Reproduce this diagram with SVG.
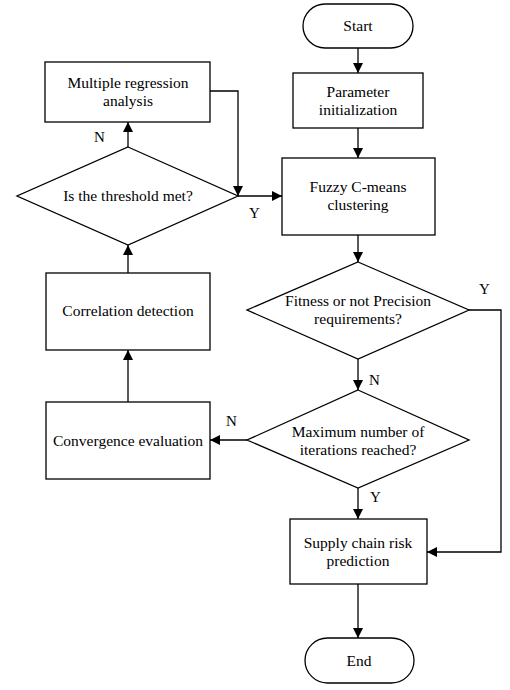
<svg xmlns="http://www.w3.org/2000/svg" width="510" height="690" viewBox="0 0 510 690">
<style>
.s{fill:#fff;stroke:#000;stroke-width:1.3}
.t{font-family:"Liberation Serif","Times New Roman",serif;font-size:15.5px;fill:#000;text-anchor:middle}
.l{font-family:"Liberation Serif","Times New Roman",serif;font-size:15px;fill:#000}
.c{fill:none;stroke:#000;stroke-width:1.3}
</style>
<defs>
<marker id="a" viewBox="0 0 10 10" refX="10" refY="5" markerWidth="10" markerHeight="10" markerUnits="userSpaceOnUse" orient="auto">
<path d="M0,0 L10,5 L0,10 z" fill="#000"/>
</marker>
</defs>
<rect width="510" height="690" fill="#fff"/>
<g id="connectors">
<path class="c" d="M358,48 V73" marker-end="url(#a)"/>
<path class="c" d="M358,128 V158" marker-end="url(#a)"/>
<path class="c" d="M358,235 V262" marker-end="url(#a)"/>
<path class="c" d="M358,359 V390" marker-end="url(#a)"/>
<path class="c" d="M358,488 V519" marker-end="url(#a)"/>
<path class="c" d="M358,584 V638" marker-end="url(#a)"/>
<path class="c" d="M469,310 H501 V552 H427" marker-end="url(#a)"/>
<path class="c" d="M247,440 H210" marker-end="url(#a)"/>
<path class="c" d="M128,402 V350" marker-end="url(#a)"/>
<path class="c" d="M128,273 V245" marker-end="url(#a)"/>
<path class="c" d="M128,147 V122" marker-end="url(#a)"/>
<path class="c" d="M210,91 H238 V196" marker-end="url(#a)"/>
<path class="c" d="M238,196 H282" marker-end="url(#a)"/>
<text class="l" x="94" y="142">N</text>
<text class="l" x="249" y="218">Y</text>
<text class="l" x="479" y="294">Y</text>
<text class="l" x="369" y="385">N</text>
<text class="l" x="226" y="426">N</text>
<text class="l" x="370" y="502">Y</text>
</g>
<g id="start">
<rect class="s" x="303" y="4" width="110" height="44" rx="22"/>
<text class="t" x="358" y="31">Start</text>
</g>
<g id="param">
<rect class="s" x="293" y="73" width="130" height="55"/>
<text class="t" x="358" y="97">Parameter</text>
<text class="t" x="358" y="115">initialization</text>
</g>
<g id="fuzzy">
<rect class="s" x="282" y="158" width="153" height="77"/>
<text class="t" x="358" y="192">Fuzzy C-means</text>
<text class="t" x="358" y="210">clustering</text>
</g>
<g id="regression">
<rect class="s" x="45" y="62" width="165" height="60"/>
<text class="t" x="128" y="88">Multiple regression</text>
<text class="t" x="128" y="106">analysis</text>
</g>
<g id="threshold">
<polygon class="s" points="128,147 238,196 128,245 17,196"/>
<text class="t" x="128" y="201">Is the threshold met?</text>
</g>
<g id="correlation">
<rect class="s" x="46" y="273" width="164" height="77"/>
<text class="t" x="128" y="316">Correlation detection</text>
</g>
<g id="convergence">
<rect class="s" x="46" y="402" width="164" height="77"/>
<text class="t" x="128" y="446">Convergence evaluation</text>
</g>
<g id="fitness">
<polygon class="s" points="358,262 469,310 358,359 247,310"/>
<text class="t" x="358" y="306">Fitness or not Precision</text>
<text class="t" x="358" y="324">requirements?</text>
</g>
<g id="maxiter">
<polygon class="s" points="358,390 469,440 358,488 247,440"/>
<text class="t" x="358" y="437">Maximum number of</text>
<text class="t" x="358" y="455">iterations reached?</text>
</g>
<g id="supply">
<rect class="s" x="290" y="519" width="137" height="65"/>
<text class="t" x="358" y="548">Supply chain risk</text>
<text class="t" x="358" y="566">prediction</text>
</g>
<g id="end">
<rect class="s" x="305" y="638" width="109" height="45" rx="22.5"/>
<text class="t" x="359" y="666">End</text>
</g>
</svg>
